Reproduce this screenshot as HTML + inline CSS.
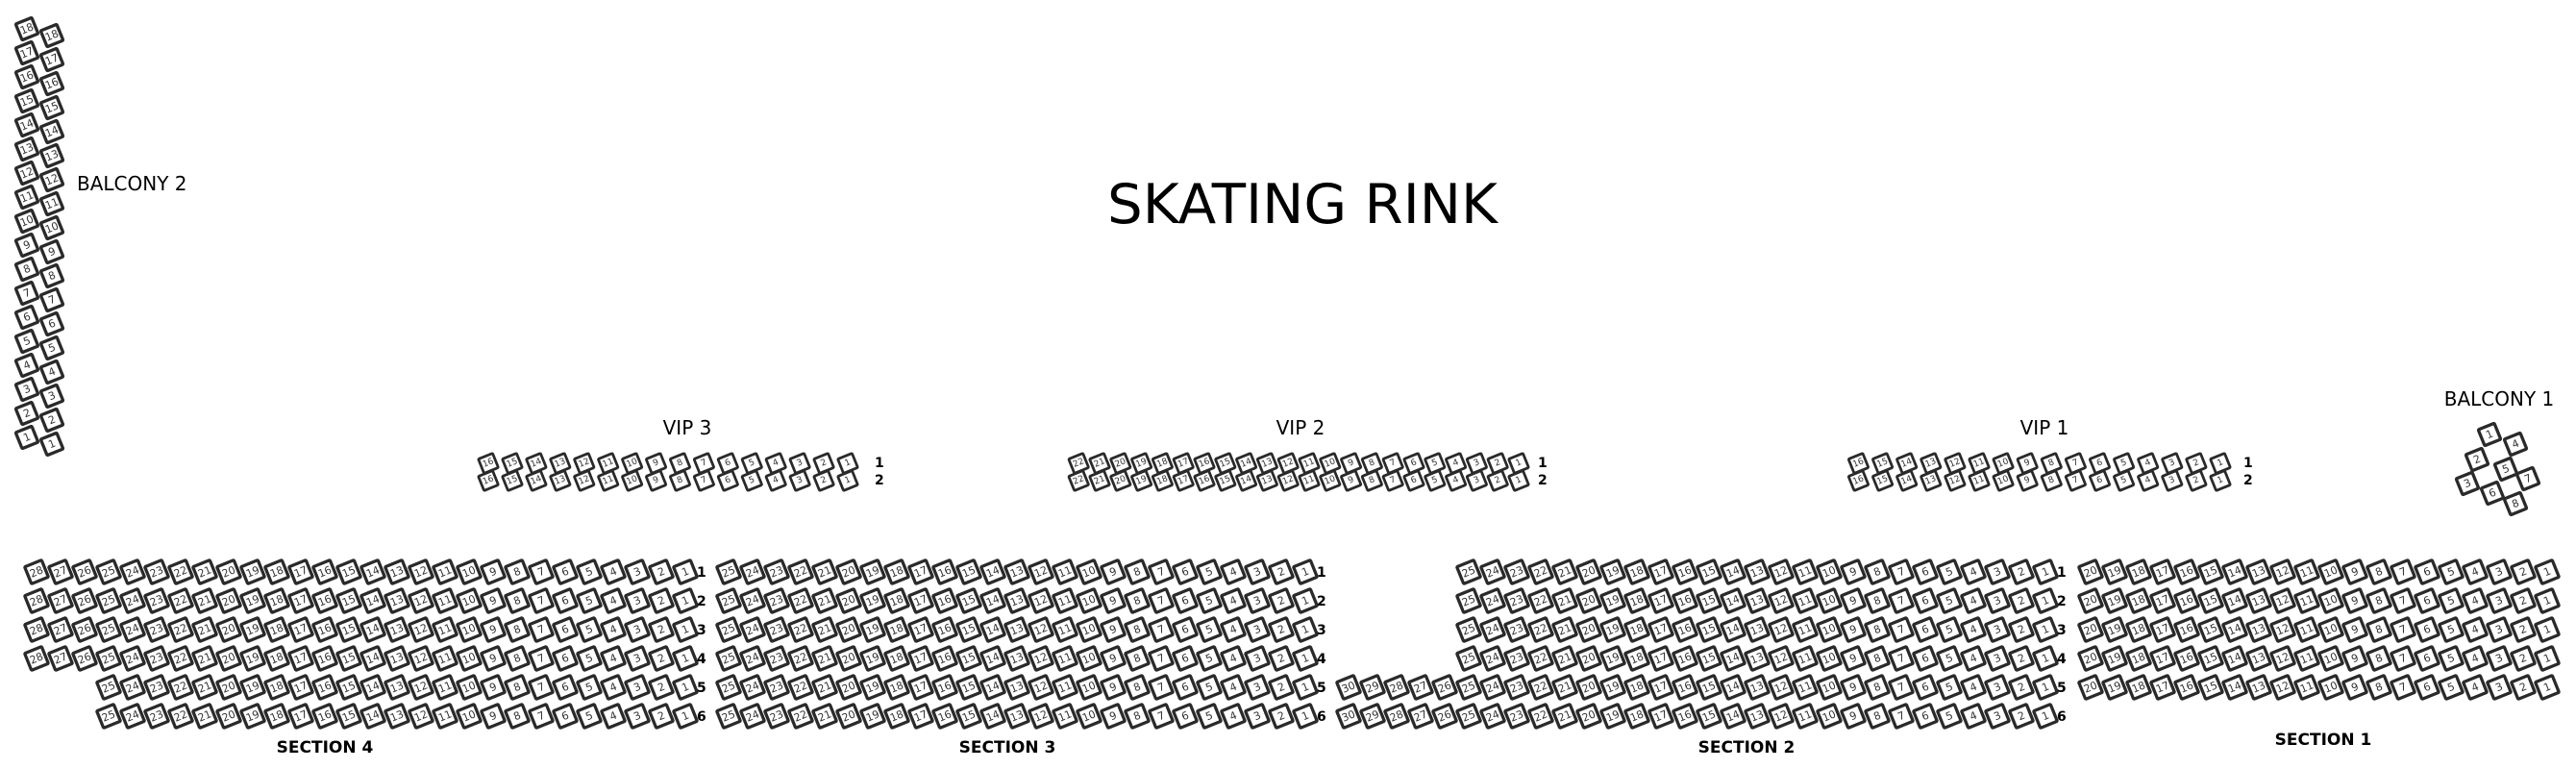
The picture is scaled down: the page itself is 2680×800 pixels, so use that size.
<!DOCTYPE html>
<html><head><meta charset="utf-8">
<style>
html,body{margin:0;padding:0;background:#fff;}
svg{display:block;}
text{font-family:"DejaVu Sans","Liberation Sans",sans-serif;}
.s rect{fill:#fff;stroke:#2a2a2a;stroke-width:3.3;}
.s text{fill:#333;font-size:11px;text-anchor:middle;dominant-baseline:central;}
.v rect{stroke-width:2.8;}
.v text{font-size:9px;}
.rl{font-weight:bold;font-size:14px;fill:#000;}
.sl{font-weight:bold;font-size:17px;text-anchor:middle;fill:#000;}
.tl{font-size:20px;text-anchor:middle;fill:#000;}
</style></head>
<body>
<svg id="m" width="2680" height="800" xmlns="http://www.w3.org/2000/svg">
<text x="1355" y="232" font-size="57" text-anchor="middle" textLength="406" lengthAdjust="spacingAndGlyphs">SKATING RINK</text>
<text x="80" y="198" font-size="20">BALCONY 2</text>
<text class="tl" x="2600" y="422">BALCONY 1</text>
<text class="tl" x="715" y="452">VIP 3</text>
<text class="tl" x="1353" y="452">VIP 2</text>
<text class="tl" x="2127" y="452">VIP 1</text>
<text class="sl" x="338" y="783">SECTION 4</text>
<text class="sl" x="1048" y="783">SECTION 3</text>
<text class="sl" x="1817" y="783">SECTION 2</text>
<text class="sl" x="2417" y="775">SECTION 1</text>
<g id="g"></g>
</svg>
<script>
var g=document.getElementById('g'),h='';
function seat(x,y,n,sz){
  var k=sz/2;
  h+='<g class="s'+(sz<18?' v':'')+'" transform="translate('+x+','+y+') rotate(-22)"><rect x="'+(-k)+'" y="'+(-k)+'" width="'+sz+'" height="'+sz+'" rx="1"/><text x="0" y="0">'+n+'</text></g>';
}
function label(x,y,t){h+='<text class="rl" x="'+x+'" y="'+(y+5)+'">'+t+'</text>';}
var rows=[595,625,655,685,715,745];
for(var r=0;r<6;r++){var n=r<4?28:25;for(var i=1;i<=n;i++)seat(713-(i-1)*25,rows[r],i,19);label(725,rows[r],r+1);}
for(var r=0;r<6;r++){for(var i=1;i<=25;i++)seat(1358-(i-1)*25,rows[r],i,19);label(1370,rows[r],r+1);}
for(var r=0;r<6;r++){var n=r<4?25:30;for(var i=1;i<=n;i++)seat(2128-(i-1)*25,rows[r],i,19);label(2140,rows[r],r+1);}
for(var r=0;r<5;r++){for(var i=1;i<=20;i++)seat(2650-(i-1)*25,rows[r],i,19);}
function vip(x1,p,n,lx){for(var r=0;r<2;r++){var y=r?500:482;for(var i=1;i<=n;i++)seat(x1-(i-1)*p,y,i,16);label(lx,y-1,r+1);}}
vip(882,24.93,16,910);
vip(1580,21.8,22,1600);
vip(2310,25.1,16,2334);
for(var i=1;i<=18;i++){var y=455-(i-1)*25;seat(28,y,i,18);seat(54,y+7,i,18);}
[[2590,452,1],[2617,462,4],[2577,478,2],[2607,488,5],[2630,498,7],[2567,503,3],[2593,513,6],[2617,524,8]].forEach(function(a){seat(a[0],a[1],a[2],18);});
g.innerHTML=h;
</script>
</body></html>
